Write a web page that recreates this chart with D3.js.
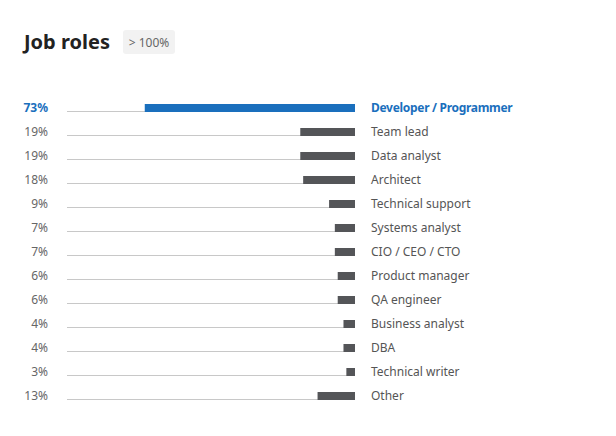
<!DOCTYPE html>
<head>
   <meta charset="utf-8">
   <script src="https://d3js.org/d3.v7.min.js"></script>
   <style>
   body{ margin:0; background:#fff; }
   text{ font-family: "Noto Sans", "Open Sans", sans-serif; }
   text.title{ font-size: 20px; font-weight: 700; fill:#222; }
   text.badge{ font-size: 12px; fill:#666; }
   text.pct{ font-size: 12px; fill:#666; }
   text.name{ font-size: 12px; fill:#555; }
   text.hl{ fill:#1a6fbd; font-weight:700; }
   text.name.hl{ letter-spacing: -0.3px; }
   </style>
</head>
<body>
<script>
const width = 616, height = 436;

const roles = ['Developer / Programmer','Team lead','Data analyst','Architect','Technical support',
   'Systems analyst','CIO / CEO / CTO','Product manager','QA engineer','Business analyst','DBA',
   'Technical writer','Other'];
const shares = [73,19,19,18,9,7,7,6,6,4,4,3,13];

const svg = d3.select('body').append('svg')
   .attr('width', width)
   .attr('height', height);

svg.append('text').attr('class','title').attr('x',24).attr('y',49).text('Job roles');
svg.append('rect').attr('x',123).attr('y',30).attr('width',52).attr('height',24)
   .attr('rx',3).attr('fill','#f2f2f2');
svg.append('text').attr('class','badge').attr('x',149).attr('y',46.5)
   .style('text-anchor','middle').text('> 100%');

// bars grow leftwards from the right end of the track
const x = d3.scaleLinear().domain([0,100]).range([355,67]);
const y = d3.scaleBand().domain(roles).range([95,407]).paddingInner(0);

const row = svg.selectAll('g.row').data(roles).enter().append('g')
   .attr('class','row')
   .attr('transform', d => `translate(0,${y(d)})`);

row.append('line')
   .attr('x1', x(100)).attr('x2', x(0))
   .attr('y1', 16.5).attr('y2', 16.5)
   .attr('stroke','#c8c8c8').attr('stroke-width',1);

row.append('rect')
   .attr('x', (d,i) => x(shares[i]))
   .attr('width', (d,i) => x(0) - x(shares[i]))
   .attr('y', 9).attr('height', 8)
   .attr('fill', (d,i) => i == 0 ? '#1a6fbd' : '#545558');

row.append('text')
   .attr('class', (d,i) => i == 0 ? 'pct hl' : 'pct')
   .attr('x', 48).attr('y', 17)
   .style('text-anchor','end')
   .text((d,i) => shares[i] + '%');

row.append('text')
   .attr('class', (d,i) => i == 0 ? 'name hl' : 'name')
   .attr('x', 371).attr('y', 17)
   .text(d => d);
</script>
</body>
